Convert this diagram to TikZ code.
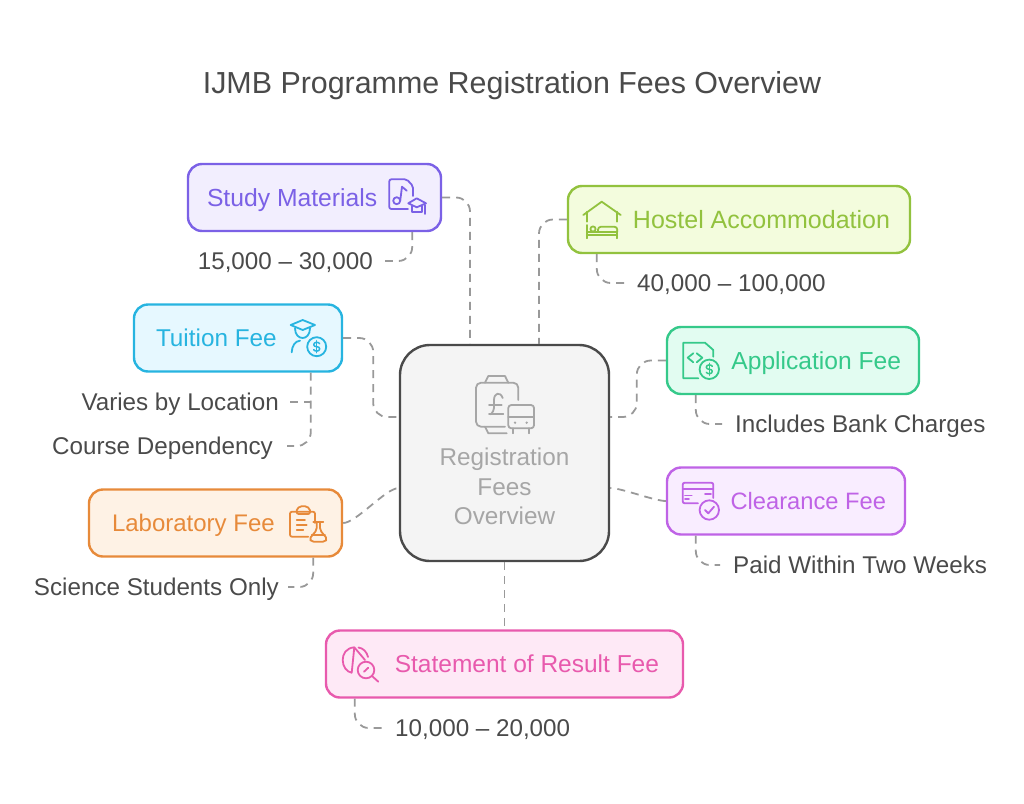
\documentclass[tikz,border=0pt]{standalone}
\usepackage{fontspec}
\setmainfont{Liberation Sans}
\usepackage{xcolor}
\usetikzlibrary{positioning,calc}
\definecolor{studycol}{HTML}{7B61E6}
\definecolor{studybg}{HTML}{F2EEFE}
\definecolor{tuitioncol}{HTML}{27B4E0}
\definecolor{tuitionbg}{HTML}{E6F8FF}
\definecolor{hostelcol}{HTML}{92C23E}
\definecolor{hostelbg}{HTML}{F3FCDD}
\definecolor{appcol}{HTML}{35C98A}
\definecolor{appbg}{HTML}{E2FCF1}
\definecolor{clearcol}{HTML}{BF63E6}
\definecolor{clearbg}{HTML}{F9EDFF}
\definecolor{labcol}{HTML}{E78A3A}
\definecolor{labbg}{HTML}{FEF2E5}
\definecolor{resultcol}{HTML}{E85AAD}
\definecolor{resultbg}{HTML}{FEE9F6}
\definecolor{hubcol}{HTML}{A6A6A6}
\definecolor{hubbg}{HTML}{F4F4F4}
\definecolor{inkcol}{HTML}{4A4A4A}
\tikzset{
    iconline/.style={line width=1.8pt, line cap=round, line join=round},
    feebox/.style 2 args={
        rectangle,
        rounded corners=14pt,
        draw=#1,
        fill=#2,
        text=#1,
        line width=2.4pt,
        inner xsep=20pt,
        inner ysep=0pt,
        minimum height=67pt,
        text height=20pt,
        text depth=2.5pt,
        font=\fontsize{24.3}{29.5}\selectfont
    }
}
% Dollar sign for the coin icons
\newcommand{\dollarmark}[2]{
    \draw[iconline,line width=1.5pt,shift={(#1,#2)}] (3,-3) .. controls (2,-5) and (-3,-5) .. (-3,-2) .. controls (-3,1) and (3,-1) .. (3,2) .. controls (3,5) and (-2,5) .. (-3,3);
    \draw[iconline,line width=1.5pt,shift={(#1,#2)}] (0,-6) -- (0,6);
}
\begin{document}
\begin{tikzpicture}[
    x=1pt,
    y=-1pt,
    hubbox/.style={
        rectangle,
        rounded corners=30pt,
        draw=inkcol,
        fill=hubbg,
        text=hubcol,
        line width=2.4pt,
        minimum width=209pt,
        minimum height=216pt,
        text width=190pt,
        align=center,
        font=\fontsize{24.3}{29.5}\selectfont
    },
    rangetext/.style={
        text=inkcol,
        inner sep=0pt,
        text height=20pt,
        text depth=2.5pt,
        font=\fontsize{24.2}{29.5}\selectfont
    },
    link/.style={
        draw=black!40,
        line width=1.8pt,
        dash pattern=on 8pt off 6pt,
        rounded corners=14pt
    }
]
\useasboundingbox (0,0) rectangle (1024,803);

% Title
\node[text=inkcol, font=\fontsize{30.4}{36}\selectfont] (title) at (512,86) {IJMB Programme Registration Fees Overview};

% Central node
\node[hubbox] (hub) at (504.5,453) {\mbox{}\\[55.5pt]Registration\\Fees\\Overview};

% Fee boxes
\node[feebox={studycol}{studybg}, font=\fontsize{24.7}{29.5}\selectfont, inner xsep=19pt, text width=215pt, align=flush left] (study) at (314.5,197.5) {Study Materials};
\node[feebox={tuitioncol}{tuitionbg}, text width=168pt, align=flush left] (tuition) at (238,338) {\hspace*{2pt}Tuition Fee};
\node[feebox={hostelcol}{hostelbg}, font=\fontsize{25}{29.5}\selectfont, text width=302pt, align=flush right] (hostel) at (739,219.5) {Hostel Accommodation};
\node[feebox={appcol}{appbg}, font=\fontsize{24.6}{29.5}\selectfont, inner xsep=18pt, text width=216pt, align=flush right] (application) at (793,360.5) {Application Fee};
\node[feebox={clearcol}{clearbg}, font=\fontsize{23.7}{29.5}\selectfont, inner xsep=19pt, text width=200pt, align=flush right] (clearance) at (786,501) {Clearance Fee};
\node[feebox={labcol}{labbg}, font=\fontsize{24}{29.5}\selectfont, text width=213pt, align=flush left] (laboratory) at (215.5,523) {\hspace*{3pt}Laboratory Fee};
\node[feebox={resultcol}{resultbg}, font=\fontsize{24.5}{29.5}\selectfont, text width=317pt, align=flush right] (result) at (504.5,664) {Statement of Result Fee\hspace*{4pt}};

% Range and note labels
\node[rangetext, anchor=east] (studyrange) at (373,261) {15,000 – 30,000};
\node[rangetext, anchor=east] (varies) at (279,402) {Varies by Location};
\node[rangetext, anchor=east] (course) at (273,446) {Course Dependency};
\node[rangetext, anchor=east] (science) at (279,587) {Science Students Only};
\node[rangetext, anchor=west] (hostelrange) at (637,283) {40,000 – 100,000};
\node[rangetext, anchor=west] (bank) at (735,424) {Includes Bank Charges};
\node[rangetext, anchor=west] (weeks) at (733,565) {Paid Within Two Weeks};
\node[rangetext, anchor=west] (resultrange) at (395,728) {10,000 – 20,000};

% Connections with the centre
\draw[link] (study.east) -| ([xshift=-34.5pt]hub.north);
\draw[link] (hostel.west) -| ([xshift=34.5pt]hub.north);
\draw[link] (tuition.east) -- ++(30,0) |- ([yshift=36pt]hub.west);
\draw[link] (application.west) -- ++(-29,0) |- ([yshift=36pt]hub.east);
\draw[link] (laboratory.east) to[out=0,in=180,looseness=0.5] ([yshift=-35pt]hub.west);
\draw[link] (clearance.west) to[out=180,in=0,looseness=0.5] ([yshift=-35pt]hub.east);
\draw[link] (hub.south) -- (hub.south |- result.north);

% Connections to the labels
\coordinate (tuitionstem) at ([xshift=178pt]tuition.south west);
\draw[link] ([xshift=-30pt]study.south east) |- ([xshift=12pt]studyrange.east);
\draw[link] (tuitionstem) |- ([xshift=14pt]course.east);
\draw[link] ([xshift=11pt]varies.east) -- (tuitionstem |- varies.east);
\draw[link] ([xshift=-30pt]laboratory.south east) |- ([xshift=9pt]science.east);
\draw[link] ([xshift=30pt]hostel.south west) |- ([xshift=-12pt]hostelrange.west);
\draw[link] ([xshift=30pt]application.south west) |- ([xshift=-13pt]bank.west);
\draw[link] ([xshift=30pt]clearance.south west) |- ([xshift=-13pt]weeks.west);
\draw[link] ([xshift=30pt]result.south west) |- ([xshift=-13pt]resultrange.west);

% Central icon
\begin{scope}[iconline, color=hubcol]
    \draw (485,382.7) -- (488.3,376) -- (505,376) -- (508.3,382.7);
    \draw[rounded corners=5pt] (518.3,400) -- (518.3,382.7) -- (476,382.7) -- (476,426.7) -- (505,426.7);
    \draw (485,426.7) -- (488.3,433.3) -- (506.7,433.3);
    \draw (502.7,398) .. controls (500,391) and (494,393) .. (494,400) .. controls (494,406) and (495,410) .. (491,414.3);
    \draw (489,414.3) -- (503.3,414.3);
    \draw (489,405) -- (501.7,405);
    \draw[rounded corners=3pt] (508.3,405) rectangle (534,428.3);
    \draw (508.3,417) -- (534,417);
    \draw (512.7,428.3) -- (512.7,433.3);
    \draw (529.3,428.3) -- (529.3,433.3);
    \fill (515,422.7) circle (1.3);
    \fill (526.7,422.7) circle (1.3);
\end{scope}

% Study icon
\begin{scope}[iconline, color=studycol]
    \draw[rounded corners=2pt] (413,196) -- (413,186) -- (406.7,179.3) -- (389.3,179.3) -- (389.3,209) -- (408,209);
    \draw (396.7,200.7) circle (3.5);
    \draw (400.2,200.7) -- (402,186.7) -- (406.7,190.7);
    \draw (408.3,203.3) -- (416.7,198.3) -- (426,203.3) -- (416.7,207.3) -- cycle;
    \draw (411.7,206) -- (411.7,211.7) -- (421.7,211.7) -- (421.7,206);
    \draw (425.3,205) -- (425.3,214);
\end{scope}

% Tuition icon
\begin{scope}[iconline, color=tuitioncol]
    \draw (290.7,325) -- (302.7,320) -- (315,325) -- (302.7,330) -- cycle;
    \draw (295,328.3) .. controls (295,335) and (299,338) .. (302.7,338) .. controls (306,338) and (310,335) .. (310,328.3);
    \draw (291.7,352.3) .. controls (292,346) and (295,341) .. (300,340.7);
    \draw (316.7,346.7) circle (9.5);
    \dollarmark{316.7}{346.7}
\end{scope}

% Hostel icon
\begin{scope}[iconline, color=hostelcol]
    \draw (583.3,215) -- (601.7,201.7) -- (620.7,215);
    \draw (586.7,211.7) -- (586.7,221.7);
    \draw (617.3,211.7) -- (617.3,221.7);
    \draw (586.7,225) -- (586.7,238.3);
    \draw (617.3,231) -- (617.3,238.3);
    \draw (586.7,235) -- (617.3,235);
    \draw (586.7,231.7) -- (617.3,231.7);
    \draw[rounded corners=3pt] (598,231.7) -- (598,226.7) -- (617.3,226.7) -- (617.3,231.7);
    \draw (593,229) circle (2.6);
\end{scope}

% Application icon
\begin{scope}[iconline, color=appcol]
    \draw (713.3,356.7) -- (713.3,350) -- (705,342.7) -- (683.3,342.7) -- (683.3,378.3) -- (698.3,378.3);
    \draw (693.3,353.3) -- (687.7,357.7) -- (693.3,362.3);
    \draw (696.7,353.3) -- (702.3,357.7) -- (696.7,362.3);
    \draw (709.3,369.3) circle (9.7);
    \dollarmark{709.3}{369.3}
\end{scope}

% Clearance icon
\begin{scope}[iconline, color=clearcol]
    \draw[rounded corners=2pt] (713.3,498) -- (713.3,482.7) -- (682.7,482.7) -- (682.7,503.3) -- (698,503.3);
    \draw (682.7,489.3) -- (713.3,489.3);
    \draw (685,495.5) -- (691.7,495.5);
    \draw (685,499) -- (689,499);
    \draw (705,494) -- (711,494);
    \draw (709.3,510) circle (9.7);
    \draw (705,510) -- (708.3,513.3) -- (714,506.7);
\end{scope}

% Laboratory icon
\begin{scope}[iconline, color=labcol]
    \draw[rounded corners=2pt] (315,523) -- (315,511.7) -- (290,511.7) -- (290,536.7) -- (308.3,536.7);
    \draw[rounded corners=2pt] (296.7,508.3) -- (303.3,505.5) -- (310,508.3) -- (310,514) -- (296.7,514) -- cycle;
    \draw (296.7,520) -- (305,520);
    \draw (296.7,525) -- (306.7,525);
    \draw (296.7,530) -- (303.3,530);
    \draw (313.3,521.7) -- (323.3,521.7);
    \draw[rounded corners=2pt] (316.7,521.7) -- (316.7,530) -- (309.3,539) -- (311.7,541.7) -- (325,541.7) -- (327.3,539) -- (320,530) -- (320,521.7);
    \draw (311.7,535) -- (325,535);
\end{scope}

% Statement icon
\begin{scope}[iconline, color=resultcol]
    \draw (354.3,647.3) .. controls (346,648) and (342.7,654) .. (342.7,660) .. controls (342.7,667) and (347,672) .. (351.7,672.7) -- (354.3,647.3) -- (365,660);
    \draw (358.5,647.5) .. controls (363,648) and (367,652) .. (368,657);
    \draw (366,670) circle (8.3);
    \draw (372,676) -- (378.3,681.7);
    \draw (364,671.7) -- (368.3,667.7);
\end{scope}

\end{tikzpicture}
\end{document}
